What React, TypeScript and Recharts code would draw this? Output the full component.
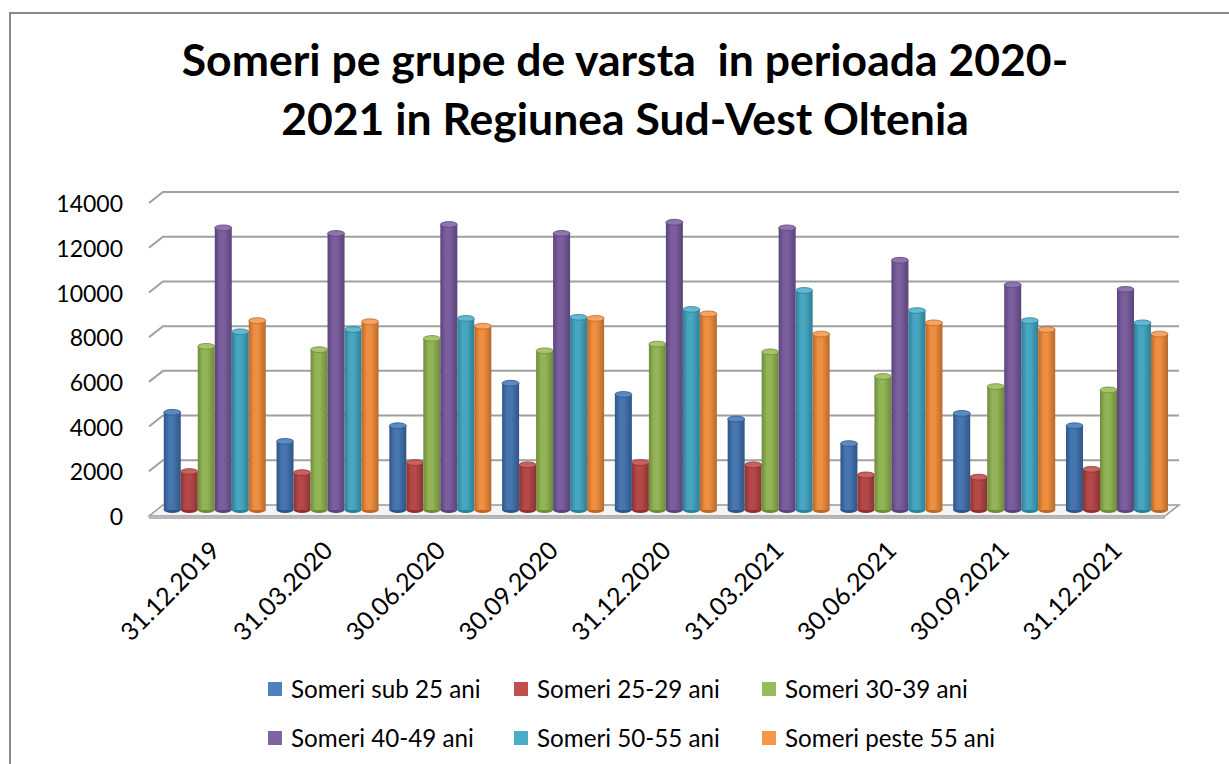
import React from 'react';
import { BarChart, Bar, XAxis, YAxis, CartesianGrid, Legend } from 'recharts';

const categories = ['31.12.2019', '31.03.2020', '30.06.2020', '30.09.2020', '31.12.2020', '31.03.2021', '30.06.2021', '30.09.2021', '31.12.2021'];
const sub25 = [4500, 3200, 3900, 5800, 5300, 4200, 3100, 4450, 3900];
const ani2529 = [1850, 1800, 2250, 2150, 2250, 2150, 1700, 1600, 1950];
const ani3039 = [7450, 7300, 7800, 7250, 7550, 7200, 6100, 5650, 5500];
const ani4049 = [12750, 12500, 12900, 12500, 13000, 12750, 11300, 10200, 10000];
const ani5055 = [8100, 8200, 8700, 8750, 9100, 9950, 9050, 8600, 8500];
const peste55 = [8600, 8550, 8350, 8700, 8900, 8000, 8500, 8200, 8000];
const yTicks = [0, 2000, 4000, 6000, 8000, 10000, 12000, 14000];

const seriesNames = ['Someri sub 25 ani', 'Someri 25-29 ani', 'Someri 30-39 ani', 'Someri 40-49 ani', 'Someri 50-55 ani', 'Someri peste 55 ani'];
const seriesKeys = ['s1', 's2', 's3', 's4', 's5', 's6'];
const seriesValues = [sub25, ani2529, ani3039, ani4049, ani5055, peste55];

const legendColors = ['#4F81BD', '#C0504D', '#9BBB59', '#8064A2', '#4BACC6', '#F79646'];
const darkColors = ['#2F5586', '#8A3432', '#6E8B3A', '#5A4478', '#2F7F96', '#B8692A'];
const midColors = ['#4675B0', '#B6484A', '#93B456', '#7A5E9E', '#47A6C0', '#EE8E40'];
const capColors = ['#5A8AC4', '#CB615E', '#A7C46C', '#8E74AE', '#62B8D0', '#F7A463'];

const data = categories.map((c, i) => {
  const row: any = { name: c };
  seriesKeys.forEach((k, j) => { row[k] = seriesValues[j][i]; });
  return row;
});

const CHART_W = 1229;
const CHART_H = 764;
const X_AXIS_H = 254;
const PLOT_BOTTOM = CHART_H - X_AXIS_H;
const FONT = 'Lato, "Open Sans", sans-serif';

const makeShape = (i: number) => (props: any) => {
  const { x, y, width, height } = props;
  if (height == null || width == null) return <g />;
  const rx = width / 2;
  const ry = Math.max(2, width * 0.17);
  const cx = x + rx;
  return (
    <g>
      <ellipse cx={cx} cy={y + height} rx={rx} ry={ry} fill={darkColors[i]} />
      <rect x={x} y={y + ry} width={width} height={Math.max(0, height - ry)} fill={`url(#cyl${i})`} />
      <ellipse cx={cx} cy={y + ry} rx={rx} ry={ry} fill={capColors[i]} stroke={darkColors[i]} strokeWidth={0.8} />
    </g>
  );
};

const gridLine = (props: any) => {
  const { x1, x2, y1 } = props;
  const y = y1;
  if (Math.abs(y - PLOT_BOTTOM) < 1.5) {
    return (
      <g key={props.key}>
        <polygon
          points={`${x1 - 8},${y + 6} ${x1 + 6},${y - 5} ${x2 + 7},${y - 5} ${x2 - 7},${y + 6}`}
          fill="#F4F4F4"
          stroke="#9A9A9A"
          strokeWidth={1.5}
        />
        <rect x={x1 - 8} y={y + 6} width={x2 - x1 + 1} height={3} fill="#B8B8B8" />
      </g>
    );
  }
  return (
    <path
      key={props.key}
      d={`M${x1 - 8},${y + 6} L${x1 + 6},${y - 5} L${x2 + 7},${y - 5}`}
      fill="none"
      stroke="#A0A0A0"
      strokeWidth={2}
    />
  );
};

const XTick = (props: any) => {
  const { x, y, payload } = props;
  return (
    <g transform={`translate(${x + 8},${y + 42})`}>
      <text x={0} y={0} transform="rotate(-45)" textAnchor="end" fontFamily={FONT} fontSize={25} fill="#000">
        {payload.value}
      </text>
    </g>
  );
};

const renderLegend = (props: any) => {
  const payload = [...(props.payload || [])].sort(
    (a: any, b: any) => seriesNames.indexOf(a.value) - seriesNames.indexOf(b.value)
  );
  return (
    <div style={{ display: 'grid', gridTemplateColumns: '246px 248px 248px', gridAutoRows: '49px', fontFamily: FONT, fontSize: 24.2, color: '#000' }}>
      {payload.map((p: any, i: number) => (
        <div key={i} style={{ display: 'flex', alignItems: 'center', whiteSpace: 'nowrap' }}>
          <span style={{ display: 'inline-block', width: 14, height: 14, background: p.color, marginRight: 9 }} />
          <span>{p.value}</span>
        </div>
      ))}
    </div>
  );
};

export default function App() {
  return (
    <div style={{ position: 'absolute', left: 0, top: 0, width: CHART_W, height: CHART_H, background: '#fff', overflow: 'hidden' }}>
      <div style={{ position: 'absolute', left: 9, top: 12, width: CHART_W, height: CHART_H, borderLeft: '2px solid #888', borderTop: '2px solid #888' }} />
      <div style={{ position: 'absolute', left: 0, top: 29, width: 1250, textAlign: 'center', fontFamily: FONT, fontWeight: 700, fontSize: 44.5, lineHeight: '59px', color: '#000' }}>
        <div>Someri pe grupe de varsta&nbsp; in perioada 2020-</div>
        <div>2021 in Regiunea Sud-Vest Oltenia</div>
      </div>
      <BarChart
        width={CHART_W}
        height={CHART_H}
        data={data}
        margin={{ top: 197, right: 57, left: 0, bottom: 0 }}
        barCategoryGap="6%"
        barGap={0}
      >
        <defs>
          {seriesKeys.map((k, i) => (
            <linearGradient key={k} id={`cyl${i}`} x1="0" y1="0" x2="1" y2="0">
              <stop offset="0%" stopColor={darkColors[i]} />
              <stop offset="30%" stopColor={midColors[i]} />
              <stop offset="55%" stopColor={midColors[i]} />
              <stop offset="100%" stopColor={darkColors[i]} />
            </linearGradient>
          ))}
        </defs>
        <CartesianGrid vertical={false} horizontal={gridLine} />
        <XAxis dataKey="name" height={X_AXIS_H} axisLine={false} tickLine={false} tickSize={0} tickMargin={0} interval={0} tick={<XTick />} />
        <YAxis
          width={157}
          domain={[0, 14000]}
          ticks={yTicks}
          axisLine={false}
          tickLine={false}
          tickSize={0}
          tickMargin={34}
          tick={{ fontFamily: FONT, fontSize: 23, fill: '#000', dy: 7 }}
        />
        <Legend
          layout="horizontal"
          verticalAlign="middle"
          align="center"
          wrapperStyle={{ top: 664, left: 268, width: 760, height: 100 }}
          content={renderLegend}
        />
        {seriesKeys.map((k, i) => (
          <Bar key={k} dataKey={k} name={seriesNames[i]} fill={legendColors[i]} shape={makeShape(i)} isAnimationActive={false} />
        ))}
      </BarChart>
    </div>
  );
}
